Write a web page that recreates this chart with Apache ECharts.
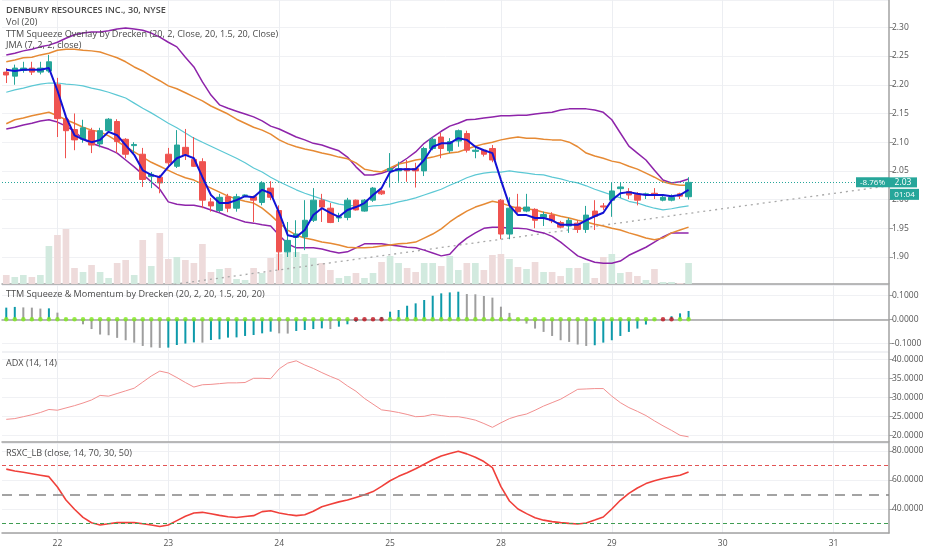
<!DOCTYPE html>
<html><head><meta charset="utf-8">
<script src="https://cdn.jsdelivr.net/npm/echarts/dist/echarts.min.js"></script>
<style>html,body{margin:0;padding:0;background:#fff}#c{width:932px;height:550px}</style>
</head><body><div id="c"></div>
<script>
// ---- categories (30-minute bars) ----
const dayLabels = ['19','22','23','24','25','28','29','30','31'];
const barsPerDay = [6,13,13,13,13,13,13,13,7];
const sessionTimes = ['09:30','10:00','10:30','11:00','11:30','12:00','12:30','13:00','13:30','14:00','14:30','15:00','15:30'];

// ---- price data ----
const open = [2.222,2.215,2.225,2.229,2.222,2.224,2.200,2.140,2.122,2.105,
 2.120,2.097,2.120,2.136,2.105,2.094,2.079,2.040,2.039,2.079,
 2.058,2.091,2.070,2.066,1.996,1.981,2.005,1.985,2.007,2.005,
 1.995,2.020,1.981,1.909,1.934,1.935,1.964,1.999,1.985,1.968,
 1.969,1.999,1.980,1.999,2.015,2.050,2.050,2.054,2.054,2.050,
 2.089,2.109,2.085,2.102,2.115,2.084,2.086,2.089,1.999,1.940,
 1.987,1.980,1.983,1.969,1.973,1.960,1.954,1.959,1.948,1.980,
 1.989,1.999,2.019,2.014,2.009,2.009,2.011,1.999,1.999,2.010,
 2.005];
const close = [2.217,2.229,2.229,2.222,2.229,2.240,2.141,2.120,2.104,2.125,
 2.095,2.120,2.140,2.101,2.079,2.096,2.035,2.044,2.029,2.064,
 2.095,2.078,2.058,1.999,1.989,2.004,1.985,2.005,2.008,1.999,
 2.029,2.004,1.909,1.929,1.940,1.964,1.999,1.987,1.960,1.970,
 1.999,1.982,1.999,2.020,2.010,2.054,2.054,2.050,2.050,2.089,
 2.105,2.089,2.101,2.120,2.086,2.086,2.079,2.069,1.940,1.985,
 1.979,1.987,1.964,1.974,1.963,1.952,1.964,1.948,1.973,1.971,
 1.987,2.015,2.022,2.008,1.999,2.010,2.009,2.004,2.004,2.006,
 2.030];
const low = [2.203,2.200,2.221,2.217,2.218,2.221,2.109,2.072,2.086,2.099,
 2.081,2.091,2.116,2.081,2.072,2.081,2.022,2.020,2.011,2.055,
 2.055,2.069,2.057,1.985,1.979,1.978,1.978,1.979,2.005,1.961,
 1.990,1.999,1.877,1.900,1.900,1.912,1.961,1.961,1.959,1.961,
 1.964,1.981,1.979,1.996,2.008,2.021,2.031,2.031,2.021,2.041,
 2.086,2.072,2.081,2.092,2.082,2.072,2.075,2.065,1.931,1.931,
 1.977,1.978,1.950,1.954,1.959,1.950,1.942,1.942,1.942,1.947,
 1.982,1.970,2.003,2.001,1.990,2.001,2.001,1.997,1.997,2.001,
 2.000];
const high = [2.229,2.235,2.240,2.240,2.240,2.252,2.212,2.147,2.150,2.139,
 2.125,2.125,2.142,2.140,2.107,2.100,2.090,2.048,2.043,2.090,
 2.121,2.123,2.109,2.072,2.003,2.010,2.010,2.010,2.009,2.007,
 2.032,2.032,1.990,1.961,1.964,1.999,2.020,2.010,1.994,1.977,
 2.003,2.000,2.001,2.022,2.018,2.081,2.066,2.069,2.064,2.092,
 2.109,2.116,2.107,2.122,2.120,2.092,2.088,2.095,2.001,2.004,
 2.010,2.010,1.985,1.979,1.978,1.963,1.968,1.964,1.989,1.999,
 1.994,2.029,2.029,2.020,2.013,2.012,2.020,2.007,2.009,2.012,
 2.039];
// volume, thousands of shares
const volume = [180,140,180,140,180,760,980,1100,320,240,
 380,240,120,420,480,180,880,360,1020,500,
 540,480,420,800,240,300,320,100,80,320,
 220,520,600,640,640,600,520,420,280,120,
 160,220,120,220,440,560,420,320,240,420,
 420,360,560,280,420,420,280,580,600,500,
 340,300,440,240,240,160,320,320,420,120,
 540,600,220,240,160,80,300,40,40,20,
 420];

// ---- overlays ----
const jma = [2.226,2.224,2.226,2.226,2.226,2.229,2.190,2.144,2.112,2.105,
 2.100,2.104,2.118,2.112,2.095,2.078,2.051,2.043,2.039,2.057,
 2.072,2.078,2.072,2.039,2.008,1.994,1.994,1.999,2.006,2.004,
 2.017,2.011,1.977,1.938,1.935,1.947,1.973,1.985,1.977,1.970,
 1.982,1.987,1.994,2.008,2.020,2.048,2.053,2.053,2.053,2.069,
 2.092,2.098,2.098,2.107,2.104,2.092,2.086,2.081,2.034,1.990,
 1.973,1.973,1.968,1.968,1.964,1.956,1.956,1.956,1.964,1.971,
 1.977,1.999,2.011,2.013,2.010,2.008,2.008,2.008,2.006,2.008,
 2.017];
const bbUpper = [2.252,2.255,2.259,2.262,2.266,2.269,2.274,2.281,2.287,2.290,
 2.292,2.292,2.294,2.297,2.299,2.297,2.295,2.290,2.283,2.274,
 2.266,2.248,2.231,2.205,2.182,2.165,2.159,2.154,2.149,2.144,
 2.137,2.128,2.123,2.116,2.109,2.104,2.098,2.095,2.090,2.085,
 2.074,2.057,2.043,2.043,2.046,2.051,2.062,2.072,2.083,2.098,
 2.109,2.119,2.128,2.133,2.139,2.140,2.142,2.144,2.146,2.146,
 2.147,2.147,2.149,2.151,2.152,2.156,2.158,2.158,2.158,2.156,
 2.152,2.139,2.116,2.093,2.081,2.069,2.051,2.034,2.029,2.031,
 2.036];
const bbLower = [2.123,2.126,2.130,2.133,2.137,2.139,2.135,2.128,2.119,2.105,
 2.098,2.093,2.088,2.081,2.069,2.057,2.044,2.031,2.018,1.996,
 1.992,1.990,1.990,1.987,1.982,1.977,1.971,1.966,1.961,1.959,
 1.956,1.954,1.938,1.923,1.916,1.916,1.916,1.914,1.910,1.907,
 1.909,1.916,1.923,1.923,1.923,1.921,1.919,1.917,1.916,1.912,
 1.907,1.902,1.905,1.921,1.933,1.942,1.950,1.952,1.952,1.950,
 1.950,1.949,1.945,1.942,1.936,1.926,1.914,1.902,1.896,1.891,
 1.889,1.889,1.893,1.903,1.910,1.917,1.926,1.935,1.942,1.942,
 1.942];
const kcUpper = [2.240,2.243,2.247,2.248,2.252,2.255,2.260,2.262,2.262,2.260,
 2.259,2.257,2.252,2.247,2.240,2.231,2.224,2.215,2.207,2.198,
 2.193,2.186,2.179,2.172,2.163,2.156,2.149,2.140,2.133,2.126,
 2.121,2.114,2.104,2.097,2.092,2.088,2.085,2.081,2.078,2.074,
 2.071,2.064,2.053,2.050,2.048,2.055,2.062,2.065,2.069,2.071,
 2.074,2.078,2.081,2.083,2.088,2.093,2.097,2.100,2.104,2.107,
 2.109,2.107,2.107,2.105,2.104,2.104,2.100,2.092,2.081,2.076,
 2.072,2.067,2.064,2.058,2.053,2.046,2.039,2.031,2.027,2.025,
 2.025];
const kcLower = [2.132,2.139,2.142,2.146,2.149,2.152,2.146,2.139,2.133,2.126,
 2.121,2.118,2.111,2.102,2.092,2.083,2.074,2.065,2.058,2.051,
 2.044,2.038,2.034,2.027,2.020,2.013,2.006,2.001,1.997,1.994,
 1.985,1.973,1.959,1.947,1.938,1.933,1.930,1.926,1.924,1.921,
 1.917,1.916,1.916,1.917,1.919,1.921,1.923,1.924,1.926,1.933,
 1.940,1.949,1.961,1.971,1.980,1.987,1.992,1.997,1.994,1.989,
 1.985,1.984,1.982,1.978,1.975,1.971,1.968,1.964,1.961,1.957,
 1.954,1.950,1.947,1.942,1.938,1.933,1.930,1.933,1.942,1.947,
 1.952];
const basis = [2.187,2.191,2.194,2.198,2.201,2.203,2.203,2.201,2.200,2.198,
 2.194,2.191,2.187,2.182,2.177,2.168,2.159,2.151,2.142,2.133,
 2.125,2.116,2.107,2.100,2.093,2.086,2.079,2.072,2.064,2.055,
 2.048,2.039,2.031,2.024,2.017,2.011,2.006,2.001,1.996,1.992,
 1.990,1.989,1.987,1.989,1.990,1.992,1.996,1.999,2.003,2.008,
 2.013,2.018,2.025,2.031,2.038,2.043,2.046,2.048,2.048,2.050,
 2.048,2.046,2.044,2.043,2.039,2.036,2.032,2.029,2.024,2.018,
 2.013,2.008,2.003,1.997,1.994,1.989,1.985,1.982,1.984,1.987,
 1.989];
// dotted trend line: [bar index, price]
const trendLine = [[19, 1.851], [103, 2.023]];
const lastPrice = 2.03;
const changeText = '-8.76%';
const countdownText = '01:04';

// ---- TTM squeeze momentum ----
const momentum = [0.049,0.052,0.050,0.049,0.045,0.046,0.028,0.003,0.001,-0.021,
 -0.041,-0.064,-0.067,-0.078,-0.088,-0.098,-0.112,-0.118,-0.120,-0.119,
 -0.108,-0.102,-0.097,-0.098,-0.087,-0.084,-0.077,-0.076,-0.070,-0.066,
 -0.059,-0.052,-0.059,-0.060,-0.049,-0.045,-0.041,-0.038,-0.041,-0.031,
 -0.021,-0.010,-0.003,-0.001,0.010,0.032,0.039,0.057,0.067,0.081,
 0.099,0.109,0.113,0.116,0.106,0.105,0.098,0.091,0.053,0.027,
 0.002,-0.018,-0.039,-0.053,-0.070,-0.088,-0.095,-0.106,-0.112,-0.109,
 -0.098,-0.088,-0.070,-0.053,-0.039,-0.022,-0.003,-0.001,0.013,0.025,
 0.035];
const squeezeOnBars = [41,42,43,44,77,78];

// ---- ADX ----
const adx = [24.2,24.4,24.9,25.4,26.0,26.8,26.6,27.2,27.8,28.5,
 29.3,30.5,30.3,31.0,31.7,32.4,34.0,35.6,36.9,36.4,
 35.2,33.9,32.7,33.3,33.4,33.6,33.8,33.8,33.9,35.0,
 35.0,34.9,37.5,39.0,39.6,38.5,37.6,36.5,35.5,34.6,
 33.0,31.6,29.7,28.2,26.7,26.4,26.0,25.5,24.9,25.0,
 25.5,25.2,24.9,24.9,24.5,24.0,23.1,22.1,23.3,24.4,
 25.1,25.6,26.6,27.7,28.6,29.5,30.8,32.1,32.2,32.3,
 32.3,30.3,28.6,27.3,26.3,25.2,23.8,22.5,21.3,20.0,
 19.6];

// ---- RSXC ----
const rsxc = [67.5,66.2,65.3,64.3,63.3,62.3,55.2,46.2,39.8,34.2,
 30.5,29.0,29.8,30.6,30.6,30.6,29.8,29.0,27.9,29.0,
 32.0,35.0,37.2,37.7,36.7,35.6,34.6,34.1,34.8,35.4,
 38.2,38.8,37.2,36.2,35.4,36.0,38.5,41.6,43.3,44.9,
 46.2,48.0,49.8,52.0,55.6,59.5,62.5,65.0,67.7,70.8,
 74.0,76.6,78.3,79.8,78.0,75.7,72.7,68.5,55.4,45.5,
 40.0,36.8,34.0,32.3,31.3,30.6,30.1,29.7,30.4,32.4,
 34.5,40.0,46.0,50.8,54.5,57.5,59.5,61.0,62.2,63.3,
 65.5];
const rsxcLevels = [70, 50, 30];

// ---- build ----
const categories = [];
dayLabels.forEach((d, k) => {
  const n = barsPerDay[k];
  const times = k === 0 ? sessionTimes.slice(sessionTimes.length - n) : sessionTimes.slice(0, n);
  times.forEach(t => categories.push(d + ' ' + t));
});
const isDayStart = (i, v) => String(v).endsWith('09:30');
const ohlc = open.map((o, i) => [o, close[i], low[i], high[i]]);

const FONT = 'Open Sans';
const AXIS_C = '#a2a2a2';
const UP = '#26a69a', DOWN = '#ef5350';

function xAxisFor(gi, showLabel) {
  return {
    type: 'category', gridIndex: gi, data: categories, boundaryGap: true,
    axisLine: { show: true, lineStyle: { color: AXIS_C, width: 1.5 } },
    axisTick: { show: false },
    axisLabel: { show: showLabel, interval: isDayStart, formatter: v => v.split(' ')[0],
      color: '#555', fontSize: 8.5, margin: 6, fontFamily: FONT },
    splitLine: { show: true, interval: isDayStart, alignWithLabel: true,
      lineStyle: { color: '#eceef2', width: 1 } }
  };
}
function yAxisFor(gi, min, max, split, dec) {
  return {
    type: 'value', gridIndex: gi, position: 'right', min: min, max: max, splitNumber: split,
    axisLine: { show: true, lineStyle: { color: AXIS_C, width: 1.5 } },
    axisTick: { show: true, length: 4, lineStyle: { color: AXIS_C } },
    axisLabel: { color: '#555', fontSize: 8.5, margin: 3, fontFamily: FONT,
      showMinLabel: false, showMaxLabel: false, formatter: v => v.toFixed(dec) },
    splitLine: { show: true, lineStyle: { color: '#f0f1f4', width: 1 } }
  };
}
const lineS = (name, data, color, width, z) => ({
  name, type: 'line', xAxisIndex: 0, yAxisIndex: 0, data, symbol: 'none',
  lineStyle: { color, width }, z: z || 3, silent: true
});
const t = (text, top, bold) => ({
  text, left: 6, top, padding: 0,
  textStyle: { fontSize: 9.1, fontWeight: bold ? 600 : 400, color: '#4a4a4a', fontFamily: FONT }
});

const option = {
  animation: false,
  backgroundColor: '#ffffff',
  title: [
    t('DENBURY RESOURCES INC., 30, NYSE', 6, true),
    t('Vol (20)', 18),
    t('TTM Squeeze Overlay by Drecken (20, 2, Close, 20, 1.5, 20, Close)', 29.5),
    t('JMA (7, 2, 2, close)', 41),
    t('TTM Squeeze & Momentum by Drecken (20, 2, 20, 1.5, 20, 20)', 290),
    t('ADX (14, 14)', 359),
    t('RSXC_LB (close, 14, 70, 30, 50)', 449)
  ],
  grid: [
    { left: 2, right: 43, top: 0, height: 284 },
    { left: 2, right: 43, top: 285, height: 66.5 },
    { left: 2, right: 43, top: 352.5, height: 89.5 },
    { left: 2, right: 43, top: 443, height: 90 }
  ],
  xAxis: [xAxisFor(0, false), xAxisFor(1, false), xAxisFor(2, false), xAxisFor(3, true)],
  yAxis: [
    yAxisFor(0, 1.853, 2.3476, 10, 2),
    { type: 'value', gridIndex: 0, min: 0, max: 5680, show: false, splitLine: { show: false } },
    yAxisFor(1, -0.1353, 0.1441, 3, 4),
    yAxisFor(2, 18.24, 41.79, 5, 4),
    yAxisFor(3, 23.45, 85.5, 3, 4)
  ],
  series: [
    { name: 'Vol', type: 'bar', xAxisIndex: 0, yAxisIndex: 1, barCategoryGap: '22%', z: 1, silent: true,
      data: volume.map((v, i) => ({ value: v, itemStyle: { color: close[i] >= open[i] ? '#d2eadf' : '#eedbdb' } })) },
    { name: 'Trend', type: 'line', xAxisIndex: 0, yAxisIndex: 0, data: trendLine, symbol: 'none', z: 2, silent: true,
      lineStyle: { color: '#a8a8a8', width: 1.3, type: [2, 4] } },
    lineS('BB Upper', bbUpper, '#8e24aa', 1.5),
    lineS('BB Lower', bbLower, '#8e24aa', 1.5),
    lineS('KC Upper', kcUpper, '#e68a34', 1.5),
    lineS('KC Lower', kcLower, '#e68a34', 1.5),
    lineS('Basis', basis, '#5cc8d4', 1.2),
    { name: 'Price', type: 'candlestick', xAxisIndex: 0, yAxisIndex: 0, data: ohlc, barWidth: '70%', z: 4,
      itemStyle: { color: UP, color0: DOWN, borderColor: UP, borderColor0: DOWN, borderWidth: 1 },
      markLine: {
        symbol: ['none', 'none'], silent: true, animation: false,
        data: [
          { yAxis: lastPrice, lineStyle: { color: '#26a69a', type: [1, 2], width: 1 },
            label: { show: true, position: 'end', distance: 0, offset: [-33, 0],
              formatter: '{p|' + changeText + '}{v|' + lastPrice.toFixed(2) + '}',
              rich: {
                p: { backgroundColor: '#26a69a', color: '#fff', fontSize: 8, fontFamily: FONT, lineHeight: 10, height: 10, width: 27, padding: [0, 3], align: 'center' },
                v: { backgroundColor: '#26a69a', color: '#fff', fontSize: 8.5, fontFamily: FONT, lineHeight: 10, height: 10, width: 22, padding: [0, 3], align: 'center' }
              } } },
          { yAxis: lastPrice, lineStyle: { color: 'rgba(0,0,0,0)', width: 0 },
            label: { show: true, position: 'end', distance: 1, offset: [0, 12],
              formatter: '{c|' + countdownText + '}',
              rich: { c: { backgroundColor: '#26a69a', color: '#fff', fontSize: 8, fontFamily: FONT, lineHeight: 11, height: 11, width: 23, padding: [0, 3], align: 'center' } } } }
        ]
      } },
    lineS('JMA', jma, '#1212d4', 2, 5),
    { name: 'Momentum', type: 'bar', xAxisIndex: 1, yAxisIndex: 2, barWidth: 2, silent: true,
      data: momentum.map((v, i) => ({ value: v, itemStyle: { color: (i === 0 || v > momentum[i - 1]) ? '#0e9aaa' : '#9e9e9e' } })) },
    { name: 'Squeeze', type: 'scatter', xAxisIndex: 1, yAxisIndex: 2, symbolSize: 4.5, z: 5, silent: true,
      data: momentum.map((v, i) => ({ value: [i, 0], itemStyle: { color: squeezeOnBars.includes(i) ? '#c0141e' : '#7ee81c' } })) },
    { name: 'ADX', type: 'line', xAxisIndex: 2, yAxisIndex: 3, data: adx, symbol: 'none', silent: true,
      lineStyle: { color: '#f29090', width: 1 } },
    { name: 'RSXC', type: 'line', xAxisIndex: 3, yAxisIndex: 4, data: rsxc, symbol: 'none', silent: true, z: 4,
      lineStyle: { color: '#f0403a', width: 1.6 },
      markLine: { symbol: ['none', 'none'], silent: true, label: { show: false },
        data: [
          { yAxis: rsxcLevels[0], lineStyle: { color: '#e25555', type: [4, 3], width: 1 } },
          { yAxis: rsxcLevels[1], lineStyle: { color: '#858585', type: [10, 7], width: 1.5 } },
          { yAxis: rsxcLevels[2], lineStyle: { color: '#3f9d52', type: [4, 3], width: 1 } }
        ] } }
  ]
};
const chart = echarts.init(document.getElementById('c'), null, { renderer: 'canvas' });
chart.setOption(option);
</script>
</body></html>
